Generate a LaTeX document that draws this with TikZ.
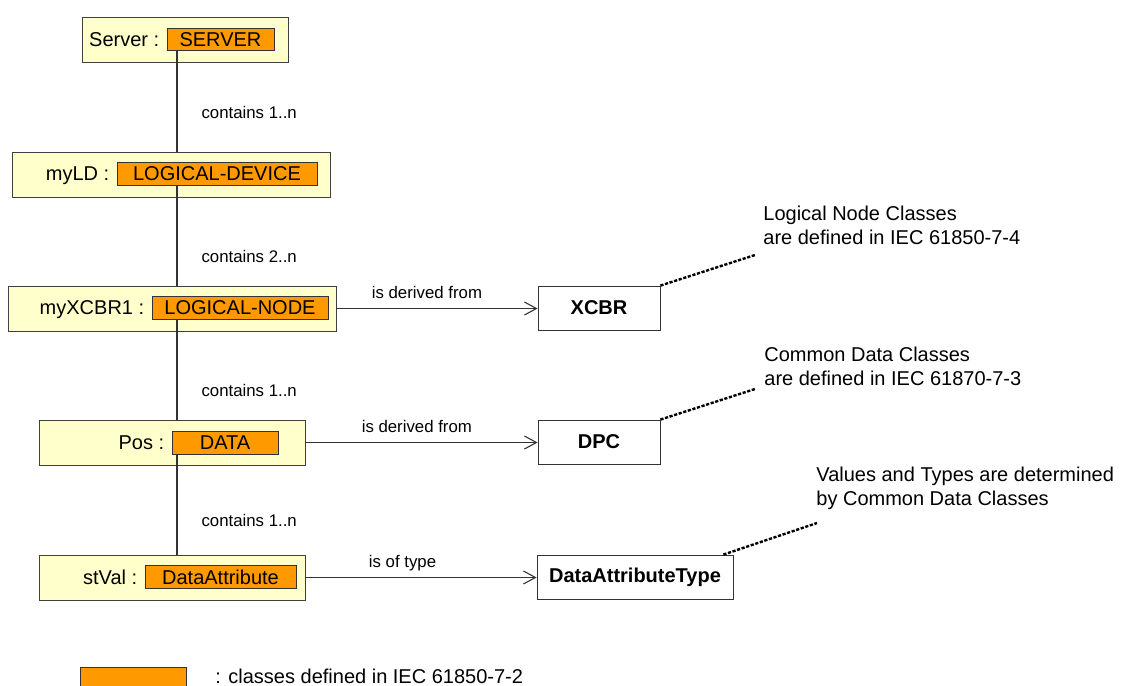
\documentclass[tikz,border=0pt]{standalone}
\usepackage{fontspec}
\setmainfont{Liberation Sans}
\usetikzlibrary{arrows.meta, positioning, calc}

\definecolor{objyellow}{HTML}{FFFFCC}
\definecolor{clsorange}{HTML}{FF9900}

\begin{document}
\begin{tikzpicture}[
        x=0.5pt, y=-0.5pt,
        >={Straight Barb[length=6pt,width=6.5pt]},
        obj/.style={
            rectangle,
            draw=black!75,
            fill=objyellow,
            minimum height=22.5pt,
            inner sep=0pt
        },
        cls/.style={
            rectangle,
            draw=black!80,
            fill=clsorange,
            minimum height=11.25pt,
            inner sep=0pt,
            font=\fontsize{10}{12}\selectfont
        },
        objname/.style={
            anchor=base east,
            inner sep=0pt,
            xshift=-3.5pt,
            font=\fontsize{10}{12}\selectfont
        },
        ref/.style={
            rectangle,
            draw=black!80,
            fill=white,
            minimum height=22pt,
            inner sep=0pt,
            font=\fontsize{10}{12}\selectfont\bfseries
        },
        lbl/.style={
            inner sep=0pt,
            font=\fontsize{8.4}{10}\selectfont
        },
        note/.style={
            anchor=south west,
            align=left,
            inner xsep=3pt,
            inner ysep=3pt,
            font=\fontsize{10}{12}\selectfont
        },
        link/.style={draw=black!80, line width=0.55pt},
        notelink/.style={draw=black, line width=1.2pt, dash pattern=on 1.6pt off 0.8pt}
    ]
    \clip (0,0) rectangle (1126,686);

    % spine of the containment tree
    \coordinate (spine) at (177,0);

    % object boxes
    \node[obj, minimum width=103pt]  (srvObj) at (185,39.5) {};
    \node[obj, minimum width=159pt]  (ldObj)  at (171,174.5) {};
    \node[obj, minimum width=164pt]  (lnObj)  at (172,308.5) {};
    \node[obj, minimum width=133pt]  (posObj) at (172,442.5) {};
    \node[obj, minimum width=133pt]  (valObj) at (172,577.5) {};

    % classes of IEC 61850-7-2
    \node[cls, minimum width=53.5pt] (srvCls) at (220.5,39.5) {SERVER};
    \node[cls, minimum width=100pt]  (ldCls)  at (217,174) {LOGICAL-DEVICE};
    \node[cls, minimum width=88pt]   (lnCls)  at (240,308) {LOGICAL-NODE};
    \node[cls, minimum width=53pt]   (posCls) at (225,443) {DATA};
    \node[cls, minimum width=75.5pt] (valCls) at (220.5,577) {DataAttribute};

    \node[objname] (srvName) at (srvCls.base west) {Server :};
    \node[objname] (ldName)  at (ldCls.base west)  {myLD :};
    \node[objname] (lnName)  at (lnCls.base west)  {myXCBR1 :};
    \node[objname] (posName) at (posCls.base west) {Pos :};
    \node[objname] (valName) at (valCls.base west) {stVal :};

    % referenced classes
    \node[ref, minimum width=61pt] (xcbr) at (599,308) {XCBR};
    \node[ref, minimum width=61pt] (dpc)  at (599,442) {DPC};
    \node[ref, minimum width=98pt] (dat)  at (635,577) {DataAttributeType};

    % containment
    \draw[link] (srvCls.south -| spine) -- (ldObj.north -| spine)
        node[lbl, pos=0.61, anchor=west, xshift=12pt] {contains 1..n};
    \draw[link] (ldCls.south -| spine) -- (lnObj.north -| spine)
        node[lbl, pos=0.71, anchor=west, xshift=12pt] {contains 2..n};
    \draw[link] (lnCls.south -| spine) -- (posObj.north -| spine)
        node[lbl, pos=0.71, anchor=west, xshift=12pt] {contains 1..n};
    \draw[link] (posCls.south -| spine) -- (valObj.north -| spine)
        node[lbl, pos=0.66, anchor=west, xshift=12pt] {contains 1..n};

    % derivation
    \draw[link, ->] (lnObj.east) -- (lnObj.east -| xcbr.west)
        node[lbl, pos=0.45, anchor=base, yshift=5pt] {is derived from};
    \draw[link, ->] (posObj.east) -- (posObj.east -| dpc.west)
        node[lbl, pos=0.48, anchor=base, yshift=5pt] {is derived from};
    \draw[link, ->] (valObj.east) -- (valObj.east -| dat.west)
        node[lbl, pos=0.42, anchor=base, yshift=5pt] {is of type};

    % notes
    \node[note] (lnNote)  at (757,251) {Logical Node Classes\\are defined in IEC 61850-7-4};
    \node[note] (cdcNote) at (758,392) {Common Data Classes\\are defined in IEC 61870-7-3};
    \node[note] (valNote) at (810,516) {Values and Types are determined\\by Common Data Classes};

    \coordinate (lnEnd)  at (755,255);
    \coordinate (cdcEnd) at (755,389);
    \coordinate (valEnd) at (817,523);
    \draw[notelink] (xcbr.north east) -- (lnEnd);
    \draw[notelink] (dpc.north east) -- (cdcEnd);
    \draw[notelink] ($(dat.north east)+(-10,0)$) -- (valEnd);

    % legend
    \node[cls, minimum width=53pt, minimum height=12pt] (legBox) at (133,679) {};
    \node[right=11pt of legBox, yshift=1.5pt, font=\fontsize{10}{12}\selectfont] (legText) {: classes defined in IEC 61850-7-2};
\end{tikzpicture}
\end{document}
